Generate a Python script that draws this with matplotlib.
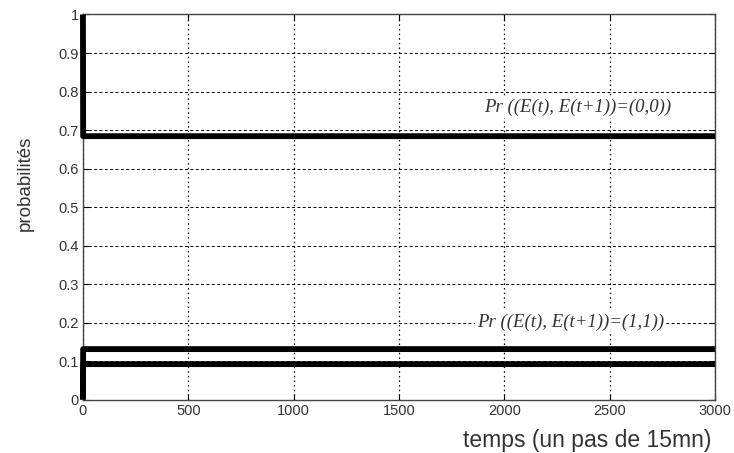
import matplotlib.pyplot as plt

# Probabilites des couples d'etats successifs
temps = [0, 1, 3000]
p00 = [1.0, 0.684, 0.684]
p01 = [0.0, 0.131, 0.131]
p11 = [0.0, 0.092, 0.092]

xticks = [0, 500, 1000, 1500, 2000, 2500, 3000]
yticks = [0, 0.1, 0.2, 0.3, 0.4, 0.5, 0.6, 0.7, 0.8, 0.9, 1]
ytick_labels = ['0', '0.1', '0.2', '0.3', '0.4', '0.5', '0.6', '0.7', '0.8', '0.9', '1']

plt.rcParams['font.family'] = ['Liberation Sans', 'DejaVu Sans']

fig = plt.figure(figsize=(7.34, 4.53), dpi=100)
ax = fig.add_axes([0.113, 0.118, 0.861, 0.850])

for serie in (p00, p01, p11):
    ax.plot(temps, serie, color='black', lw=4.2, solid_capstyle='butt',
            zorder=3, clip_on=False)

ax.set_xlim(0, 3000)
ax.set_ylim(0, 1)
ax.set_xticks(xticks)
ax.set_yticks(yticks)
ax.set_yticklabels(ytick_labels)
ax.tick_params(direction='in', top=True, right=True, length=4, labelsize=10.5,
               labelcolor='#333333', pad=3)

# grille style matlab
ax.xaxis.grid(True, linestyle=(0, (1.2, 2.5)), color='black', lw=0.9)
ax.yaxis.grid(True, linestyle=(0, (3, 2.5)), color='black', lw=0.7)
for s in ax.spines.values():
    s.set_color('#444444')
    s.set_linewidth(1.0)

txt = dict(family='Liberation Serif', style='italic', fontsize=13.5, color='#333333',
           ha='center', va='center', zorder=4,
           bbox=dict(facecolor='white', edgecolor='none', pad=1.5))
ax.text(2350, 0.76, 'Pr ((E(t), E(t+1))=(0,0))', **txt)
ax.text(2315, 0.201, 'Pr ((E(t), E(t+1))=(1,1))', **txt)

fig.text(0.80, 0.028, 'temps (un pas de 15mn)', ha='center', va='center',
         fontsize=16.5, color='#333333')
fig.text(0.035, 0.596, 'probabilités', rotation=90, ha='center', va='center',
         fontsize=13.5, color='#333333')

fig.savefig('out.png', dpi=100)
